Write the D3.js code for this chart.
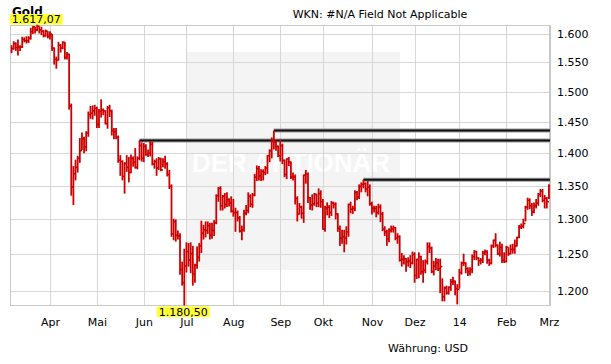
<!DOCTYPE html>
<html>
<head>
<meta charset="utf-8">
<script src="https://cdn.jsdelivr.net/npm/d3@7"></script>
<style>
  body { margin: 0; background: #fff; }
  svg text { font-family: "DejaVu Sans", Verdana, sans-serif; font-size: 11px; fill: #000; }
</style>
</head>
<body>
<svg id="chart" width="611" height="364"></svg>
<script>
// trading days per month, Mar 2013 (from the 5th) .. Mar 2014 (the 3rd)
const barsPerMonth = [18, 22, 22, 20, 22, 22, 20, 23, 20, 21, 22, 20, 1];
const monthLabels = ["Apr", "Mai", "Jun", "Jul", "Aug", "Sep", "Okt", "Nov", "Dez", "14", "Feb", "Mrz"];
const yTicks = [1200, 1250, 1300, 1350, 1400, 1450, 1500, 1550, 1600];

// gold, USD per ounce
const closes = [
  1574, 1583, 1576, 1577, 1577, 1590, 1588, 1588, 1592, 1604, 1613, 1607, 1614, 1607, 1605, 1597, 1605, 1596,
  1600, 1575, 1555, 1554, 1580, 1575, 1585, 1559, 1564, 1476, 1348, 1368, 1378, 1392, 1404, 1423, 1410, 1432, 1462, 1464, 1468, 1472,
  1446, 1467, 1469, 1468, 1447, 1473, 1468, 1436, 1434, 1425, 1389, 1387, 1364, 1384, 1378, 1370, 1392, 1386, 1378, 1392, 1412, 1392,
  1411, 1398, 1400, 1414, 1383, 1387, 1377, 1391, 1374, 1387, 1383, 1367, 1349, 1279, 1297, 1277, 1276, 1229, 1211, 1234,
  1254, 1242, 1251, 1223, 1235, 1246, 1262, 1280, 1285, 1284, 1291, 1277, 1284, 1295, 1335, 1346, 1320, 1334, 1322, 1329, 1324, 1312,
  1310, 1310, 1302, 1283, 1285, 1309, 1313, 1334, 1322, 1336, 1363, 1376, 1365, 1372, 1370, 1377, 1396, 1404, 1420, 1418, 1411, 1396,
  1412, 1389, 1367, 1391, 1386, 1363, 1363, 1331, 1308, 1318, 1309, 1366, 1368, 1332, 1321, 1323, 1337, 1324, 1338, 1326,
  1286, 1317, 1318, 1310, 1324, 1322, 1308, 1287, 1273, 1275, 1273, 1282, 1322, 1315, 1316, 1340, 1333, 1349, 1352, 1353, 1345, 1348, 1323,
  1316, 1316, 1310, 1318, 1308, 1286, 1282, 1272, 1284, 1286, 1288, 1273, 1275, 1242, 1243, 1244, 1240, 1241, 1238, 1250,
  1221, 1243, 1247, 1226, 1228, 1240, 1261, 1259, 1226, 1234, 1238, 1230, 1233, 1192, 1204, 1197, 1205, 1212, 1213, 1203, 1202,
  1225, 1238, 1238, 1230, 1226, 1229, 1247, 1254, 1245, 1241, 1242, 1252, 1254, 1242, 1238, 1262, 1270, 1263, 1251, 1260, 1242, 1240,
  1260, 1251, 1257, 1257, 1262, 1274, 1289, 1290, 1294, 1318, 1328, 1320, 1311, 1320, 1324, 1337, 1342, 1328, 1331, 1326,
  1350
];
const highs = [
  1580, 1587, 1585, 1590, 1580, 1595, 1594, 1596, 1596, 1611, 1614, 1613, 1617.07, 1614, 1613, 1607, 1608, 1605,
  1605, 1600, 1576, 1560, 1586, 1582, 1587, 1586, 1568, 1565, 1480, 1380, 1390, 1396, 1424, 1433, 1426, 1435, 1467, 1476, 1477, 1478,
  1475, 1471, 1487, 1472, 1469, 1476, 1478, 1470, 1440, 1440, 1428, 1397, 1389, 1386, 1397, 1394, 1398, 1395, 1408, 1395, 1420, 1417,
  1416, 1414, 1406, 1419, 1418, 1390, 1392, 1394, 1393, 1392, 1396, 1386, 1374, 1352, 1301, 1300, 1284, 1280, 1240, 1258,
  1267, 1266, 1267, 1262, 1237, 1261, 1266, 1298, 1292, 1297, 1297, 1295, 1295, 1299, 1337, 1348, 1349, 1336, 1339, 1340, 1331, 1334,
  1330, 1317, 1313, 1305, 1291, 1314, 1321, 1340, 1337, 1339, 1368, 1381, 1380, 1375, 1375, 1380, 1397, 1406, 1425, 1436, 1420, 1412,
  1421, 1415, 1390, 1392, 1394, 1387, 1370, 1367, 1334, 1324, 1320, 1367, 1374, 1370, 1333, 1337, 1339, 1338, 1346, 1343,
  1330, 1320, 1325, 1321, 1327, 1326, 1325, 1309, 1291, 1285, 1285, 1290, 1323, 1326, 1320, 1343, 1342, 1352, 1355, 1359, 1355, 1357, 1352,
  1326, 1320, 1320, 1323, 1322, 1311, 1290, 1285, 1287, 1291, 1291, 1289, 1280, 1277, 1252, 1249, 1245, 1246, 1249, 1254,
  1253, 1244, 1253, 1248, 1242, 1243, 1267, 1267, 1261, 1241, 1245, 1244, 1244, 1217, 1206, 1207, 1206, 1216, 1219, 1214, 1209,
  1230, 1240, 1251, 1239, 1232, 1232, 1250, 1256, 1255, 1246, 1245, 1255, 1257, 1256, 1244, 1264, 1271, 1280, 1264, 1268, 1265, 1253,
  1262, 1260, 1264, 1265, 1271, 1275, 1292, 1294, 1301, 1320, 1332, 1331, 1324, 1325, 1330, 1339, 1345, 1345, 1336, 1333,
  1352
];
const lows = [
  1566, 1572, 1570, 1562, 1570, 1575, 1585, 1583, 1584, 1590, 1600, 1601, 1605, 1601, 1598, 1594, 1595, 1592,
  1590, 1570, 1546, 1539, 1553, 1567, 1573, 1555, 1555, 1470, 1335, 1321, 1358, 1370, 1385, 1405, 1400, 1403, 1426, 1455, 1454, 1460,
  1440, 1440, 1457, 1461, 1446, 1439, 1458, 1428, 1422, 1422, 1385, 1365, 1358, 1338, 1371, 1355, 1369, 1379, 1376, 1375, 1389, 1387,
  1386, 1396, 1394, 1395, 1381, 1376, 1365, 1374, 1372, 1378, 1376, 1364, 1345, 1275, 1270, 1268, 1271, 1222, 1207, 1180.5,
  1225, 1233, 1224, 1207, 1211, 1230, 1240, 1252, 1271, 1274, 1279, 1271, 1272, 1276, 1293, 1326, 1313, 1313, 1316, 1318, 1319, 1310,
  1304, 1282, 1297, 1281, 1270, 1282, 1306, 1309, 1318, 1317, 1334, 1357, 1358, 1357, 1358, 1366, 1368, 1386, 1392, 1406, 1404, 1394,
  1387, 1383, 1363, 1360, 1380, 1360, 1358, 1322, 1297, 1307, 1301, 1295, 1353, 1324, 1314, 1313, 1320, 1318, 1318, 1317,
  1285, 1282, 1306, 1302, 1305, 1316, 1300, 1282, 1262, 1265, 1253, 1264, 1275, 1309, 1308, 1312, 1328, 1330, 1340, 1346, 1340, 1334, 1320,
  1307, 1310, 1303, 1307, 1296, 1283, 1276, 1262, 1267, 1281, 1281, 1270, 1265, 1240, 1233, 1236, 1226, 1233, 1231, 1236,
  1211, 1216, 1217, 1222, 1211, 1224, 1236, 1252, 1224, 1221, 1228, 1227, 1197, 1186, 1186, 1195, 1195, 1200, 1208, 1194, 1182,
  1203, 1222, 1234, 1224, 1220, 1221, 1224, 1242, 1242, 1234, 1236, 1238, 1249, 1237, 1234, 1236, 1259, 1260, 1249, 1247, 1238, 1238,
  1239, 1248, 1250, 1251, 1251, 1261, 1273, 1286, 1287, 1297, 1314, 1315, 1305, 1309, 1316, 1320, 1333, 1325, 1316, 1316,
  1330
];

// resistance lines: bar index where they begin, and level
const resistanceFrom = [123, 60, 165];
const resistanceLevel = [1436, 1420, 1359];

const N = closes.length;
const margin = { left: 10.5, right: 550, top: 25, bottom: 305 };

const de = d3.formatLocale({ decimal: ",", thousands: ".", grouping: [3], currency: ["", ""] });
const fmtTick = de.format(",.0f");
const fmtVal = de.format(",.2f");

const svg = d3.select("#chart");

const x = d3.scaleLinear().domain([-0.5, N - 0.5]).range([margin.left, margin.right]);
const y = d3.scaleLog()
  .domain([d3.min(lows), d3.max(highs)])
  .range([margin.bottom + 0.5, margin.top - 0.5]);

const monthStarts = d3.cumsum(barsPerMonth).slice(0, monthLabels.length);

// watermark
svg.append("rect")
  .attr("x", 186).attr("y", 52).attr("width", 214).attr("height", 218)
  .attr("fill", "#f4f4f4");
svg.append("text")
  .attr("x", 192).attr("y", 172)
  .attr("textLength", 198).attr("lengthAdjust", "spacingAndGlyphs")
  .style("font-family", "'Liberation Sans', Arial, sans-serif")
  .style("font-size", "28px").style("font-weight", "bold")
  .style("fill", "#ffffff")
  .text("DER AKTIONÄR");

// grid
const grid = svg.append("g").attr("class", "grid");
grid.append("g")
  .attr("transform", `translate(0,${margin.bottom})`)
  .call(d3.axisBottom(x).tickValues(monthStarts).tickSize(-(margin.bottom - margin.top)).tickFormat(""))
  .call(g => g.select(".domain").remove());
grid.append("g")
  .attr("transform", `translate(${margin.left},0)`)
  .call(d3.axisRight(y).tickValues(yTicks).tickSize(margin.right - margin.left).tickFormat(""))
  .call(g => g.select(".domain").remove());
grid.selectAll("line").attr("stroke", "#d6d6d6").attr("shape-rendering", "crispEdges");

// frame
svg.append("rect")
  .attr("x", margin.left).attr("y", margin.top + 0.5)
  .attr("width", margin.right - margin.left).attr("height", margin.bottom - margin.top - 0.5)
  .attr("fill", "none").attr("stroke", "#c8c8c8").attr("shape-rendering", "crispEdges");
svg.append("line")
  .attr("x1", margin.right).attr("x2", margin.right)
  .attr("y1", margin.top).attr("y2", margin.bottom)
  .attr("stroke", "#c8c8c8").attr("stroke-width", 2);

// axes labels
svg.append("g")
  .attr("transform", `translate(0,${margin.bottom})`)
  .call(d3.axisBottom(x).tickValues(monthStarts).tickSize(0).tickPadding(13)
    .tickFormat((d, i) => monthLabels[i]))
  .call(g => g.select(".domain").remove())
  .selectAll("text").style("font-size", "11px");

svg.append("g")
  .attr("transform", `translate(${margin.right},0)`)
  .call(d3.axisRight(y).tickValues(yTicks).tickSize(0).tickPadding(7).tickFormat(fmtTick))
  .call(g => g.select(".domain").remove())
  .selectAll("text").style("font-size", "11px");

// resistance lines
const res = svg.append("g");
resistanceLevel.forEach((lv, k) => {
  res.append("line")
    .attr("x1", x(resistanceFrom[k])).attr("x2", margin.right)
    .attr("y1", y(lv)).attr("y2", y(lv))
    .attr("stroke", "#9a9a9a").attr("stroke-width", 4);
  res.append("line")
    .attr("x1", x(resistanceFrom[k])).attr("x2", margin.right)
    .attr("y1", y(lv)).attr("y2", y(lv))
    .attr("stroke", "#111").attr("stroke-width", 2);
});

// price bars
const step = x(1) - x(0);
const bars = svg.append("g").attr("stroke", "#cc0000");
bars.selectAll("line.hl")
  .data(d3.range(N))
  .join("line")
  .attr("class", "hl")
  .attr("x1", i => x(i)).attr("x2", i => x(i))
  .attr("y1", i => y(highs[i])).attr("y2", i => y(lows[i]))
  .attr("stroke-width", 1.8);
bars.selectAll("line.cl")
  .data(d3.range(N))
  .join("line")
  .attr("class", "cl")
  .attr("x1", i => x(i)).attr("x2", i => Math.min(x(i) + step, margin.right))
  .attr("y1", i => y(closes[i])).attr("y2", i => y(closes[i]))
  .attr("stroke-width", 1.6);

// title texts
svg.append("text").attr("x", 12).attr("y", 16)
  .style("font-size", "12px").style("font-weight", "bold").text("Gold");
svg.append("text").attr("x", 380).attr("y", 18).attr("text-anchor", "middle")
  .text("WKN: #N/A Field Not Applicable");
svg.append("text").attr("x", 388).attr("y", 352).text("Währung: USD");

// extreme labels
const iMax = d3.maxIndex(highs);
const iMin = d3.minIndex(lows);
function badge(cx, top, label) {
  const g = svg.append("g");
  const t = g.append("text").attr("x", cx).attr("y", top + 9).attr("text-anchor", "middle").text(label);
  const w = t.node().getComputedTextLength() + 4;
  g.insert("rect", "text")
    .attr("x", cx - w / 2).attr("y", top).attr("width", w).attr("height", 10.5)
    .attr("fill", "#ffff33");
}
badge(x(iMax) - 1, y(highs[iMax]) - 10.5, fmtVal(highs[iMax]));
badge(x(iMin) - 1, y(lows[iMin]) + 1, fmtVal(lows[iMin]));
</script>
</body>
</html>
